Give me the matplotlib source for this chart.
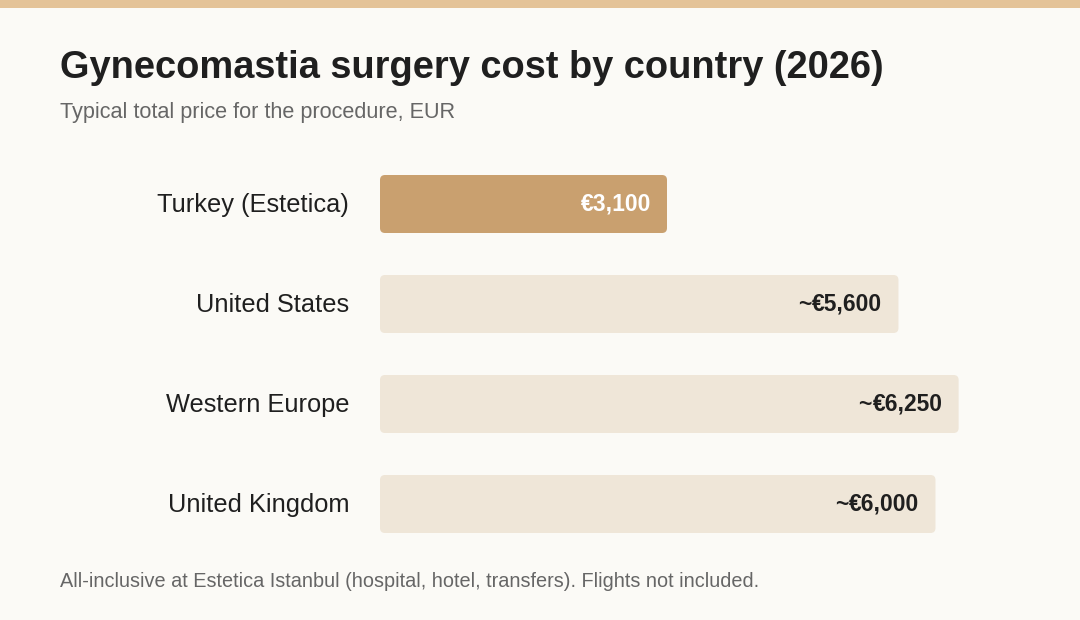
import matplotlib.pyplot as plt
from matplotlib.patches import FancyBboxPatch, Rectangle

countries = ["Turkey (Estetica)", "United States", "Western Europe", "United Kingdom"]
costs = [3100, 5600, 6250, 6000]
cost_labels = ["€3,100", "€5,600", "€6,250", "€6,000"]
approx = [False, True, True, True]

plt.rcParams['font.family'] = ['Liberation Sans', 'DejaVu Sans']

W, H = 1080, 620
fig = plt.figure(figsize=(W / 100, H / 100), dpi=100)
fig.patch.set_facecolor('#fbfaf6')

# top band
fig.patches.append(Rectangle((0, 1 - 8 / H), 1, 8 / H, transform=fig.transFigure,
                             facecolor='#e4c398', edgecolor='none'))

fig.text(60 / W, 1 - 78 / H, "Gynecomastia surgery cost by country (2026)",
         fontsize=27.4, fontweight='bold', color='#1f1f1f', va='baseline', ha='left')
fig.text(60 / W, 1 - 118 / H, "Typical total price for the procedure, EUR",
         fontsize=15.6, color='#666666', va='baseline', ha='left')
fig.text(60 / W, 1 - 587 / H,
         "All-inclusive at Estetica Istanbul (hospital, hotel, transfers). Flights not included.",
         fontsize=14.3, color='#666666', va='baseline', ha='left')

px_per_eur = 287 / 3100
ax = fig.add_axes([380 / W, 66 / H, 700 / W, 400 / H])
ax.set_xlim(0, 700 / px_per_eur)
ax.set_ylim(3.5, -0.5)
ax.axis('off')

xu = 1 / px_per_eur   # data x per pixel
yu = 0.01             # data y per pixel
renderer = fig.canvas.get_renderer()
for i, (c, v, lab) in enumerate(zip(countries, costs, cost_labels)):
    hi = i == 0
    bar = FancyBboxPatch((0, i - 0.29), v, 0.58,
                         boxstyle="round,pad=0,rounding_size=%f" % (5 * xu),
                         mutation_aspect=yu / xu,
                         facecolor='#c9a06f' if hi else '#efe6d8', edgecolor='none')
    ax.add_patch(bar)
    col = 'white' if hi else '#1f1f1f'
    t = ax.text(v - 16 * xu, i + 0.07, lab, ha='right', va='baseline', fontsize=16.5,
                fontweight='bold', color=col)
    if approx[i]:
        w = t.get_window_extent(renderer).width
        ax.text(v - (16 + w + 1) * xu, i + 0.07, "~", ha='right', va='baseline',
                fontsize=16.5, fontweight='bold', color=col)
    ax.text(-31 * xu, i + 0.08, c, ha='right', va='baseline', fontsize=18.3,
            color='#1f1f1f', clip_on=False)

fig.savefig('out.png', dpi=100, facecolor=fig.get_facecolor())
